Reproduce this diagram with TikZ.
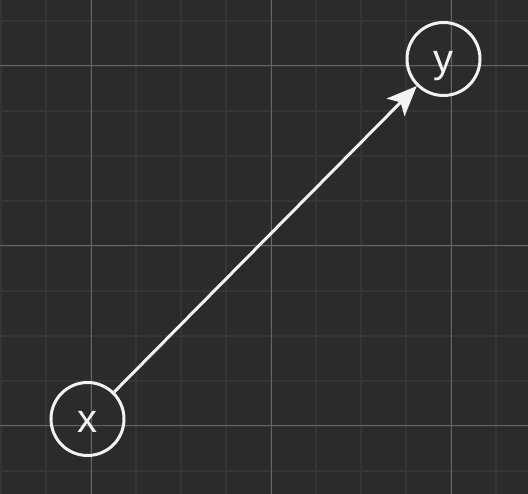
\documentclass[tikz,border=0pt]{standalone}
\usepackage{fontspec}
\setmainfont{Liberation Sans}
\usetikzlibrary{arrows.meta}
\definecolor{bg}{HTML}{2B2B2B}
\definecolor{minorgrid}{HTML}{353535}
\definecolor{majorgrid}{HTML}{666666}
\definecolor{ink}{HTML}{F2F2F2}
\tikzset{
  vert/.style={circle, draw=ink, line width=3pt, minimum size=73pt, inner sep=0pt, text=ink, text height=28pt, text depth=0pt, font=\fontsize{40}{42}\selectfont},
  edgeline/.style={draw=ink, line width=3pt, -{Stealth[length=30pt,width=25pt,inset=7pt]}},
}
\begin{document}
\begin{tikzpicture}[x=1pt,y=-1pt]
\fill[bg] (0,0) rectangle (528,494);
\useasboundingbox (0,0) rectangle (528,494);
\foreach \i in {0,...,11} {
  \draw[minorgrid, line width=2pt] ({1+45*\i},0) -- ({1+45*\i},494);
}
\foreach \j in {0,...,10} {
  \draw[minorgrid, line width=2pt] (0,{21+45*\j}) -- (528,{21+45*\j});
}
\foreach \i in {91,271,451} {
  \draw[majorgrid, line width=1pt] (\i,0) -- (\i,494);
}
\foreach \j in {66,246,426} {
  \draw[majorgrid, line width=1pt] (0,\j) -- (528,\j);
}
\node[vert] (x) at (87.5,419) {x};
\node[vert] (y) at (443.5,59) {y};
\draw[edgeline] (x) -- (y);
\end{tikzpicture}
\end{document}
